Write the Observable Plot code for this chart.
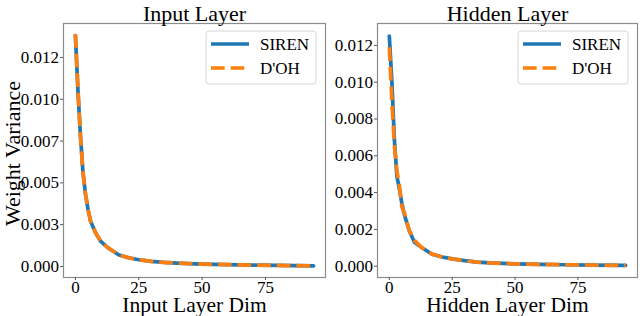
<!DOCTYPE html>
<html>
<head>
<meta charset="utf-8">
<script src="https://cdn.jsdelivr.net/npm/d3@7"></script>
<script src="https://cdn.jsdelivr.net/npm/@observablehq/plot@0.6"></script>
<style>
  html, body { margin: 0; padding: 0; background: #fff; }
  #wrap { position: relative; width: 640px; height: 316px; overflow: hidden; font-family: "Liberation Serif", "Times New Roman", serif; }
  #wrap svg { position: absolute; top: 0; font-family: "Liberation Serif", "Times New Roman", serif; }
</style>
</head>
<body>
<div id="wrap"></div>
<script>
// ---- data ----
const seriesNames = ["SIREN", "D'OH"];
const seriesColors = ["#1f77b4", "#ff7f0e"];
const dims = [0, 1, 2, 3, 4, 5, 6, 8, 10, 13, 17, 21, 25, 30, 35, 40, 50, 60, 70, 80, 94];
const inputSiren = [0.0138, 0.0105, 0.0078, 0.0056, 0.0043, 0.0034, 0.0027, 0.0020, 0.0015, 0.0011, 0.0007, 0.00052, 0.00040, 0.00030, 0.00024, 0.00020, 0.00014, 0.00011, 0.00008, 0.00006, 0.00004];
const inputDoh   = [0.0139, 0.0106, 0.0078, 0.0056, 0.0043, 0.0034, 0.0027, 0.0020, 0.0015, 0.0011, 0.0007, 0.00052, 0.00040, 0.00030, 0.00024, 0.00020, 0.00014, 0.00011, 0.00008, 0.00006, 0.00004];
const hiddenSiren = [0.0125, 0.0101, 0.0069, 0.0049, 0.0042, 0.0034, 0.0028, 0.0019, 0.0013, 0.0010, 0.00065, 0.00050, 0.00040, 0.00030, 0.00022, 0.00018, 0.00013, 0.00010, 0.00008, 0.00006, 0.00004];
const hiddenDoh   = [0.0119, 0.0090, 0.0066, 0.0052, 0.0044, 0.0032, 0.0029, 0.0019, 0.0014, 0.0010, 0.00066, 0.00050, 0.00040, 0.00030, 0.00022, 0.00018, 0.00013, 0.00010, 0.00008, 0.00006, 0.00004];
const xTicks = [0, 25, 50, 75];
const inputYTicks = [0, 0.0025, 0.005, 0.0075, 0.01, 0.0125];
const inputYTickLabels = ["0.000", "0.003", "0.005", "0.007", "0.010", "0.012"];
const hiddenYTicks = [0, 0.002, 0.004, 0.006, 0.008, 0.010, 0.012];
const hiddenYTickLabels = ["0.000", "0.002", "0.004", "0.006", "0.008", "0.010", "0.012"];
const panelTitles = ["Input Layer", "Hidden Layer"];
const xLabels = ["Input Layer Dim", "Hidden Layer Dim"];
const yLabel = "Weight Variance";

function rows(xs, ys) { return xs.map((x, i) => ({x, y: ys[i]})); }

const LW = 3.7;
const FONT = "Liberation Serif";

function panel(opts) {
  const {left, width, mL, mR, yDomain, yTicks, yLabels, title, xLabel, siren, doh, withYLabel} = opts;
  const marks = [
    Plot.frame({stroke: "#8c8c8c", strokeWidth: 1.2}),
    Plot.axisY(yTicks, {tickSize: 3, tickPadding: 1.5, fontSize: 17, stroke: "#555", tickFormat: (d, i) => yLabels[i], label: null}),
    Plot.axisX(xTicks, {tickSize: 3, tickPadding: 0, fontSize: 17, stroke: "#555", tickFormat: d => String(d), label: null}),
    Plot.line(rows(dims, siren), {x: "x", y: "y", stroke: seriesColors[0], strokeWidth: LW, strokeLinejoin: "round"}),
    Plot.line(rows(dims, doh), {x: "x", y: "y", stroke: seriesColors[1], strokeWidth: LW, strokeDasharray: "13.7,5.9", strokeLinecap: "butt"}),
    Plot.text([title], {frameAnchor: "top", lineAnchor: "bottom", textAnchor: "middle", dy: -3, fontSize: 22, fill: "#000", text: d => d}),
    Plot.text([xLabel], {frameAnchor: "bottom", lineAnchor: "bottom", textAnchor: "middle", dy: 34.5, fontSize: 21.5, fill: "#000", text: d => d})
  ];
  if (withYLabel) {
    marks.push(Plot.text([yLabel], {frameAnchor: "left", lineAnchor: "bottom", textAnchor: "middle", rotate: -90, dx: -44, dy: 3, fontSize: 22, fill: "#000", text: d => d}));
  }
  const svg = Plot.plot({
    width, height: 316,
    marginLeft: mL, marginRight: mR, marginTop: 23, marginBottom: 39,
    style: {fontFamily: FONT, background: "transparent", color: "#000"},
    x: {domain: [-4.7, 98.7], label: null},
    y: {domain: yDomain, label: null},
    marks
  });
  svg.style.left = left + "px";

  // legend (layout only) placed in the upper right of the frame
  const frameRight = width - mR;
  const bx = frameRight - 9 - 110, by = 31, bw = 110, bh = 53;
  const g = d3.select(svg).append("g").attr("font-family", FONT).attr("text-anchor", "start");
  g.append("rect").attr("x", bx).attr("y", by).attr("width", bw).attr("height", bh)
    .attr("rx", 3).attr("fill", "rgba(255,255,255,0.8)").attr("stroke", "#d6d6d6").attr("stroke-width", 1);
  seriesNames.forEach((name, i) => {
    const ly = by + 13 + i * 24;
    const ln = g.append("line").attr("x1", bx + 5).attr("x2", bx + 43).attr("y1", ly).attr("y2", ly)
      .attr("stroke", seriesColors[i]).attr("stroke-width", LW);
    if (i === 1) ln.attr("stroke-dasharray", "13.7,5.9");
    g.append("text").attr("x", bx + 54).attr("y", ly + 6).attr("font-size", 17)
      .attr("fill", "#000").attr("text-anchor", "start").text(name);
  });
  return svg;
}

const wrap = document.getElementById("wrap");
wrap.appendChild(panel({
  left: 0, width: 330, mL: 63, mR: 5,
  yDomain: [-0.00066, 0.01453], yTicks: inputYTicks, yLabels: inputYTickLabels,
  title: panelTitles[0], xLabel: xLabels[0], siren: inputSiren, doh: inputDoh, withYLabel: true
}));
wrap.appendChild(panel({
  left: 320, width: 320, mL: 57, mR: 3,
  yDomain: [-0.000614, 0.01319], yTicks: hiddenYTicks, yLabels: hiddenYTickLabels,
  title: panelTitles[1], xLabel: xLabels[1], siren: hiddenSiren, doh: hiddenDoh, withYLabel: false
}));
</script>
</body>
</html>
